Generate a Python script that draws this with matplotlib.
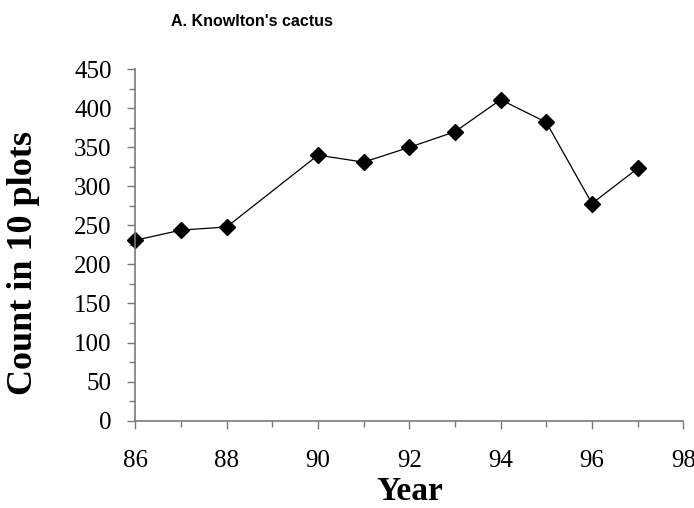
import matplotlib
matplotlib.use('Agg')
from matplotlib import pyplot as plt
from matplotlib.ticker import MultipleLocator

# Knowlton's cactus counts
years = [86, 87, 88, 90, 91, 92, 93, 94, 95, 96, 97]
counts = [231, 244, 248, 340, 331, 350, 370, 411, 382, 278, 323]

x_ticks = [86, 88, 90, 92, 94, 96, 98]
y_ticks = [0, 50, 100, 150, 200, 250, 300, 350, 400, 450]

title = "A. Knowlton's cactus"
x_label = 'Year'
y_label = 'Count in 10 plots'

axis_grey = '#7a7a7a'
serif = ['Liberation Serif', 'DejaVu Serif']
sans = ['Liberation Sans', 'DejaVu Sans']

fig = plt.figure(figsize=(6.94, 5.08), dpi=100)
ax = fig.add_axes([0.195, 0.172, 0.7896, 0.6917])

ax.plot(years, counts, color='black', linewidth=0.9, clip_on=False,
        marker='D', markersize=8.5, markerfacecolor='black', markeredgecolor='black')

ax.set_xlim(86, 98)
ax.set_ylim(0, 450)
ax.set_xticks(x_ticks)
ax.set_yticks(y_ticks)
ax.xaxis.set_minor_locator(MultipleLocator(1))
ax.yaxis.set_minor_locator(MultipleLocator(25))

for side in ['top', 'right']:
    ax.spines[side].set_visible(False)
for side in ['left', 'bottom']:
    ax.spines[side].set_color(axis_grey)
    ax.spines[side].set_linewidth(1.2)

ax.tick_params(which='major', direction='out', length=6, width=1, color=axis_grey)
ax.tick_params(which='minor', direction='out', length=4, width=1, color=axis_grey)
ax.tick_params(axis='x', which='major', pad=15)
ax.tick_params(axis='y', which='major', pad=11)

for lbl in ax.get_xticklabels() + ax.get_yticklabels():
    lbl.set_family(serif)
    lbl.set_fontsize(18)

fig.text(0.363, 0.957, title, ha='center', va='center',
         family=sans, fontweight='bold', fontsize=11.5)
fig.text(0.59, 0.032, x_label, ha='center', va='center',
         family=serif, fontweight='bold', fontsize=24)
fig.text(0.034, 0.482, y_label, ha='center', va='center', rotation=90,
         family=serif, fontweight='bold', fontsize=26)

plt.savefig('out.png', dpi=100)
plt.close()
